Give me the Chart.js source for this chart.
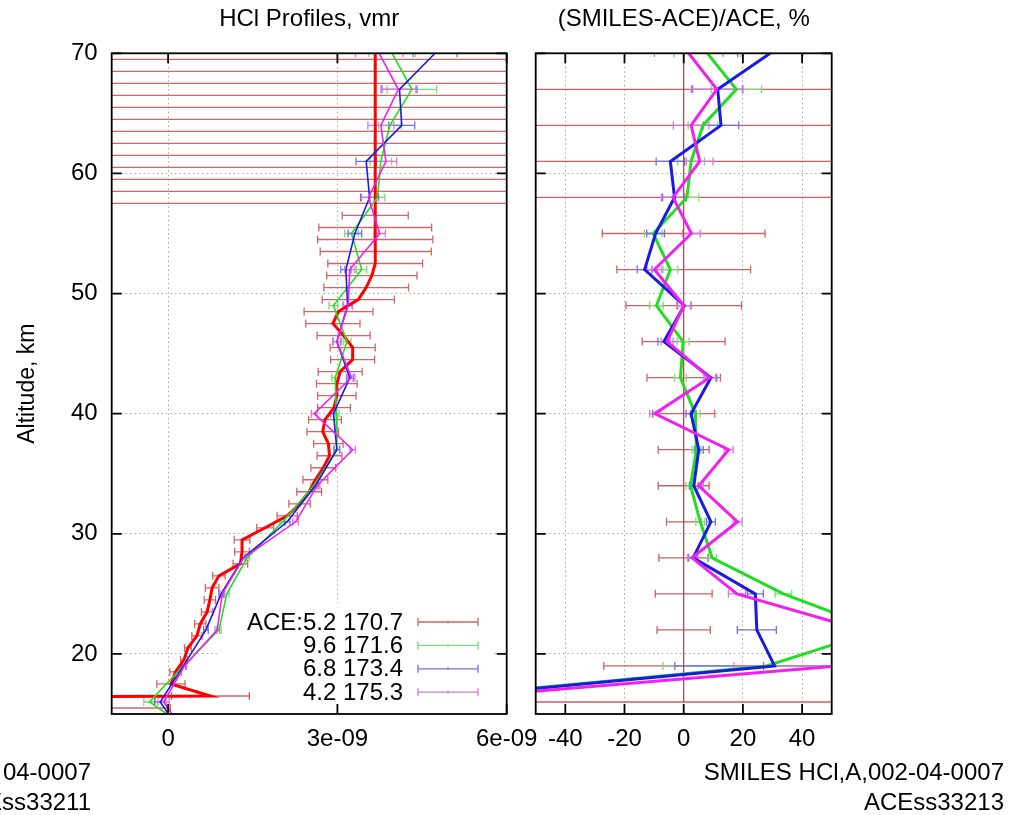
<!DOCTYPE html>
<html>
<head>
<meta charset="utf-8">
<script src="https://cdn.jsdelivr.net/npm/chart.js@4.4.1/dist/chart.umd.min.js"></script>
<style>
  html, body { margin: 0; padding: 0; background: #fff; }
  canvas { position: absolute; left: 0; top: 0; }
</style>
</head>
<body>
<canvas id="vmr" width="1034" height="815"></canvas>
<canvas id="rel" width="1034" height="815"></canvas>
<script>
// ACE profile, vmr, 1 km grid
const aceAlt = [70.5, 69.5, 68.5, 67.5, 66.5, 65.5, 64.5, 63.5, 62.5, 61.5, 60.5, 59.5, 58.5, 57.5,
  56.5, 55.5, 54.5, 53.5, 52.5, 51.5, 50.5, 49.5, 48.5, 47.5, 46.5, 45.5, 44.5, 43.5, 42.5, 41.5,
  40.5, 39.5, 38.5, 37.5, 36.5, 35.5, 34.5, 33.5, 32.5, 31.5, 30.5, 29.5, 28.5, 27.5, 26.5, 25.5,
  24.5, 23.5, 22.5, 21.5, 20.5, 19.5, 18.5, 17.5, 16.5, 15.5];
const aceVmr = [3.67e-9, 3.67e-9, 3.67e-9, 3.67e-9, 3.67e-9, 3.67e-9, 3.67e-9, 3.67e-9, 3.67e-9, 3.67e-9,
  3.67e-9, 3.67e-9, 3.67e-9, 3.67e-9, 3.67e-9, 3.67e-9, 3.67e-9, 3.68e-9, 3.67e-9, 3.61e-9, 3.51e-9,
  3.37e-9, 3.02e-9, 2.92e-9, 3.11e-9, 3.27e-9, 3.27e-9, 3.05e-9, 2.99e-9, 2.99e-9, 2.94e-9, 2.78e-9,
  2.74e-9, 2.84e-9, 2.86e-9, 2.75e-9, 2.61e-9, 2.50e-9, 2.33e-9, 2.11e-9, 1.72e-9, 1.31e-9, 1.31e-9,
  1.28e-9, 0.90e-9, 0.78e-9, 0.74e-9, 0.69e-9, 0.57e-9, 0.51e-9, 0.35e-9, 0.28e-9, 0.13e-9, 0.05e-9,
  0.75e-9, -40e-9];
const aceErr = [20e-9, 20e-9, 20e-9, 20e-9, 20e-9, 20e-9, 20e-9, 20e-9, 20e-9, 20e-9, 20e-9, 20e-9, 20e-9, 20e-9,
  0.585e-9, 1.0e-9, 1.02e-9, 0.985e-9, 0.84e-9, 0.80e-9, 0.75e-9, 0.64e-9, 0.61e-9, 0.48e-9, 0.47e-9,
  0.40e-9, 0.39e-9, 0.39e-9, 0.36e-9, 0.34e-9, 0.29e-9, 0.29e-9, 0.28e-9, 0.26e-9, 0.22e-9, 0.22e-9,
  0.22e-9, 0.22e-9, 0.19e-9, 0.18e-9, 0.15e-9, 0.14e-9, 0.13e-9, 0.13e-9, 0.11e-9, 0.12e-9, 0.10e-9,
  0.10e-9, 0.10e-9, 0.09e-9, 0.06e-9, 0.06e-9, 0.10e-9, 0.25e-9, 0.69e-9, 40.04e-9];

// SMILES profiles, vmr, 3 km grid
const smlAlt = [70, 67, 64, 61, 58, 55, 52, 49, 46, 43, 40, 37, 34, 31, 28, 25, 22, 19, 16, 13];
const greenVmr = [3.97e-9, 4.32e-9, 3.93e-9, 3.77e-9, 3.71e-9, 3.25e-9, 3.43e-9, 2.93e-9, 3.17e-9, 2.96e-9,
  2.98e-9, 2.99e-9, 2.58e-9, 2.03e-9, 1.40e-9, 1.04e-9, 0.90e-9, 0.27e-9, -0.33e-9, 0.6e-9];
const blueVmr = [4.73e-9, 4.10e-9, 4.14e-9, 3.51e-9, 3.57e-9, 3.31e-9, 3.15e-9, 3.18e-9, 2.99e-9, 3.22e-9,
  2.93e-9, 2.99e-9, 2.61e-9, 2.11e-9, 1.33e-9, 0.94e-9, 0.67e-9, 0.27e-9, -0.14e-9, 0.3e-9];
const magentaVmr = [3.74e-9, 4.08e-9, 3.77e-9, 3.86e-9, 3.55e-9, 3.75e-9, 3.22e-9, 3.19e-9, 2.99e-9, 3.25e-9,
  2.59e-9, 3.27e-9, 2.64e-9, 2.26e-9, 1.34e-9, 0.96e-9, 0.87e-9, 0.29e-9, -0.08e-9, 0.37e-9];
const greenErr = [0.41e-9, 0.44e-9, 0.2e-9, 0.19e-9, 0.13e-9, 0.12e-9, 0.09e-9, 0.08e-9, 0.07e-9, 0.06e-9,
  0.05e-9, 0.05e-9, 0.05e-9, 0.05e-9, 0.04e-9, 0.04e-9, 0.04e-9, 0.04e-9, 0.1e-9, 0.1e-9];
const blueErr = [0.39e-9, 0.31e-9, 0.23e-9, 0.18e-9, 0.16e-9, 0.12e-9, 0.09e-9, 0.08e-9, 0.07e-9, 0.06e-9,
  0.05e-9, 0.05e-9, 0.05e-9, 0.05e-9, 0.04e-9, 0.04e-9, 0.04e-9, 0.04e-9, 0.1e-9, 0.1e-9];
const magentaErr = [0.42e-9, 0.31e-9, 0.23e-9, 0.19e-9, 0.12e-9, 0.1e-9, 0.09e-9, 0.08e-9, 0.07e-9, 0.06e-9,
  0.05e-9, 0.05e-9, 0.05e-9, 0.05e-9, 0.04e-9, 0.04e-9, 0.04e-9, 0.04e-9, 0.1e-9, 0.1e-9];

// (SMILES-ACE)/ACE, %
const relAlt = [70, 67, 64, 61, 58, 55, 52, 49, 46, 43, 40, 37, 34, 31, 28, 25, 22, 19, 16];
const aceRel = [0, 0, 0, 0, 0, 0, 0, 0, 0, 0, 0, 0, 0, 0, 0, 0, 0, 0, 0];
const aceRelErr = [300, 300, 300, 300, 300, 27.5, 22.6, 19.5, 14, 12.4, 10.5, 8.6, 8.6, 5.8, 8.4, 9.6, 9, 27, 300];
const greenRel = [8, 17.8, 6.5, 2.5, 1.1, -10.3, -4.5, -9.2, -0.2, -1.1, 3.9, 4.3, 2.3, 5.6, 9.6, 33.7, 66, 28, -100];
const blueRel = [29.2, 11.5, 12.6, -4.5, -3.1, -9.5, -13.2, 0.2, -6.7, 9.2, 2.5, 5.1, 3.4, 9.2, 3.2, 24.2, 24.7, 30.7, -99];
const magentaRel = [1.7, 11.2, 2.5, 5.4, -3.6, 2.6, -9.9, 0, -5.6, 8.8, -9.8, 15.2, 5.1, 18.2, 2.8, 18, 60, 52, -94];
const greenRelErr = [11.3, 8.5, 5, 4.5, 4, 3, 2.5, 2.3, 2, 2, 1.7, 1.5, 1.5, 1.5, 1.5, 2.8, 7, 35, 20];
const blueRelErr = [11, 8.5, 6, 4.8, 4, 3, 2.5, 2.3, 2, 2, 1.7, 1.5, 1.5, 1.5, 1.5, 2.7, 6.6, 33.7, 20];
const magentaRelErr = [11.6, 8.6, 6, 4.5, 4, 3, 2.5, 2.3, 2, 2, 1.7, 1.5, 1.5, 1.5, 1.5, 2.9, 7, 35, 20];

// axes and texts
const altTicks = [20, 30, 40, 50, 60, 70];
const vmrTicks = [0, 3e-9, 6e-9];
const vmrTickLabels = ['0', '3e-09', '6e-09'];
const relTicks = [-40, -20, 0, 20, 40];
const relTickLabels = ['-40', '-20', '0', '20', '40'];
const legendLabels = ['ACE:5.2 170.7', '9.6 171.6', '6.8 173.4', '4.2 175.3'];

const FONT = "'Liberation Sans', Arial, Helvetica, sans-serif";
Chart.defaults.font.family = FONT;
Chart.defaults.color = '#000';

const pts = (xs, ys) => xs.map((v, i) => ({ x: v, y: ys[i] }));

// white key area: hides the grid only, drawn before the error bars
const keyBox = {
  id: 'keyBox',
  beforeDatasetsDraw(chart) {
    const o = chart.options.plugins.keyBox;
    if (!o) return;
    chart.ctx.save();
    chart.ctx.fillStyle = '#fff';
    chart.ctx.fillRect(o.left, o.top, o.width, o.height);
    chart.ctx.restore();
  },
  afterDatasetsDraw(chart) {
    const o = chart.options.plugins.keyBox;
    if (!o) return;
    const ctx = chart.ctx;
    ctx.save();
    ctx.font = '24px ' + FONT;
    ctx.textAlign = 'right';
    ctx.textBaseline = 'middle';
    chart.data.datasets.filter(ds => ds.errors).forEach((ds, i) => {
      const y = o.top + 19 + i * 23.4;
      ctx.fillStyle = '#000';
      ctx.fillText(legendLabels[i], o.textX, y + 1);
      ctx.strokeStyle = ds.errColor;
      ctx.lineWidth = 1.3;
      ctx.beginPath();
      ctx.moveTo(o.sampleX0, y); ctx.lineTo(o.sampleX1, y);
      ctx.moveTo(o.sampleX0, y - 4); ctx.lineTo(o.sampleX0, y + 4);
      ctx.moveTo(o.sampleX1, y - 4); ctx.lineTo(o.sampleX1, y + 4);
      const m = (o.sampleX0 + o.sampleX1) / 2;
      ctx.moveTo(m, y - 1.5); ctx.lineTo(m, y + 1.5);
      ctx.stroke();
    });
    ctx.restore();
  }
};

const errorBars = {
  id: 'errorBars',
  beforeDatasetsDraw(chart) {
    const { ctx, chartArea: a, scales: { x, y } } = chart;
    ctx.save();
    ctx.beginPath();
    ctx.rect(a.left, a.top, a.width, a.height);
    ctx.clip();
    chart.data.datasets.forEach(ds => {
      if (!ds.errors) return;
      ctx.strokeStyle = ds.errColor;
      ctx.lineWidth = 1.3;
      ds.data.forEach((p, i) => {
        const e = ds.errors[i];
        const yp = y.getPixelForValue(p.y);
        const x0 = x.getPixelForValue(p.x - e);
        const x1 = x.getPixelForValue(p.x + e);
        ctx.beginPath();
        ctx.moveTo(x0, yp); ctx.lineTo(x1, yp);
        ctx.moveTo(x0, yp - 4); ctx.lineTo(x0, yp + 4);
        ctx.moveTo(x1, yp - 4); ctx.lineTo(x1, yp + 4);
        ctx.stroke();
      });
    });
    ctx.restore();
  }
};

const frame = {
  id: 'frame',
  afterDraw(chart) {
    const { ctx, chartArea: a, scales: { x, y } } = chart;
    const o = chart.options.plugins.frame;
    ctx.save();
    ctx.strokeStyle = '#000';
    ctx.lineWidth = 1.8;
    ctx.strokeRect(a.left, a.top, a.right - a.left, a.bottom - a.top);
    ctx.beginPath();
    x.ticks.forEach(t => {
      const px = x.getPixelForValue(t.value);
      ctx.moveTo(px, a.top); ctx.lineTo(px, a.top + 10);
      ctx.moveTo(px, a.bottom); ctx.lineTo(px, a.bottom - 10);
    });
    y.ticks.forEach(t => {
      const py = y.getPixelForValue(t.value);
      ctx.moveTo(a.left, py); ctx.lineTo(a.left + 10, py);
      ctx.moveTo(a.right, py); ctx.lineTo(a.right - 10, py);
    });
    ctx.stroke();
    // panel title and footer notes
    ctx.fillStyle = '#000';
    ctx.font = '24px ' + FONT;
    ctx.textAlign = 'center';
    ctx.textBaseline = 'alphabetic';
    ctx.fillText(o.title, (a.left + a.right) / 2, 26);
    ctx.textAlign = 'right';
    o.notes.forEach(n => ctx.fillText(n.text, n.x, n.y));
    ctx.restore();
  }
};

const gridOpts = { color: '#a8a8a8', lineWidth: 1, drawTicks: false };
const borderOpts = { display: false, dash: [1.5, 3] };

function line(data, color, width, order, errors, errColor) {
  return {
    data, borderColor: color, backgroundColor: color, borderWidth: width,
    showLine: true, pointRadius: 0, tension: 0, clip: 0, order, errors, errColor
  };
}

new Chart(document.getElementById('vmr'), {
  type: 'scatter',
  data: {
    datasets: [
      line(pts(aceVmr, aceAlt), '#ff0000', 3, 4, aceErr, '#d06666'),
      line(pts(greenVmr, smlAlt), '#22dd22', 1.6, 3, greenErr, '#7fd87f'),
      line(pts(blueVmr, smlAlt), '#1a1ae6', 1.6, 2, blueErr, '#7272e0'),
      line(pts(magentaVmr, smlAlt), '#f020f0', 1.6, 1, magentaErr, '#d67ad6')
    ]
  },
  options: {
    responsive: false, animation: false, devicePixelRatio: 1,
    layout: { padding: { left: 0, top: 53.3, right: 527.3, bottom: 0 } },
    plugins: {
      legend: { display: false }, tooltip: { enabled: false },
      frame: { title: 'HCl Profiles, vmr', notes: [
        { text: '04-0007', x: 91, y: 780 },
        { text: 'Ess33211', x: 91, y: 810 }
      ] },
      keyBox: { left: 217, top: 603, width: 276, height: 102, textX: 403, sampleX0: 418, sampleX1: 478 }
    },
    scales: {
      x: {
        type: 'linear', min: -1e-9, max: 6e-9,
        afterBuildTicks: s => { s.ticks = vmrTicks.map(v => ({ value: v })); },
        afterFit: s => { s.height = 101; },
        ticks: { font: { size: 24 }, padding: 11, maxRotation: 0,
          callback: (v, i) => vmrTickLabels[i] },
        grid: gridOpts, border: borderOpts
      },
      y: {
        type: 'linear', min: 15, max: 70,
        afterBuildTicks: s => { s.ticks = altTicks.map(v => ({ value: v })); },
        afterFit: s => { s.width = 111.7; },
        ticks: { font: { size: 24 }, padding: 14, callback: v => String(v) },
        title: { display: true, text: 'Altitude, km', font: { size: 23 }, padding: { top: 14, bottom: 0 } },
        grid: gridOpts, border: borderOpts
      }
    }
  },
  plugins: [keyBox, errorBars, frame]
});

new Chart(document.getElementById('rel'), {
  type: 'scatter',
  data: {
    datasets: [
      line(pts(aceRel, relAlt), '#b83c3c', 1.2, 4, aceRelErr, '#cc6262'),
      line(pts(greenRel, relAlt), '#22dd22', 3, 3, greenRelErr, '#7fd87f'),
      line(pts(blueRel, relAlt), '#1a1ae6', 3, 2, blueRelErr, '#7272e0'),
      line(pts(magentaRel, relAlt), '#f020f0', 3, 1, magentaRelErr, '#d67ad6')
    ]
  },
  options: {
    responsive: false, animation: false, devicePixelRatio: 1,
    layout: { padding: { left: 535.7, top: 53.3, right: 202.3, bottom: 0 } },
    plugins: {
      legend: { display: false }, tooltip: { enabled: false },
      frame: { title: '(SMILES-ACE)/ACE, %', notes: [
        { text: 'SMILES HCl,A,002-04-0007', x: 1004, y: 780 },
        { text: 'ACEss33213', x: 1004, y: 810 }
      ] }
    },
    scales: {
      x: {
        type: 'linear', min: -50, max: 50,
        afterBuildTicks: s => { s.ticks = relTicks.map(v => ({ value: v })); },
        afterFit: s => { s.height = 101; },
        ticks: { font: { size: 24 }, padding: 11, maxRotation: 0,
          callback: (v, i) => relTickLabels[i] },
        grid: gridOpts, border: borderOpts
      },
      y: {
        type: 'linear', min: 15, max: 70,
        afterBuildTicks: s => { s.ticks = altTicks.map(v => ({ value: v })); },
        afterFit: s => { s.width = 0; },
        ticks: { display: false },
        grid: gridOpts, border: borderOpts
      }
    }
  },
  plugins: [errorBars, frame]
});
</script>
</body>
</html>
